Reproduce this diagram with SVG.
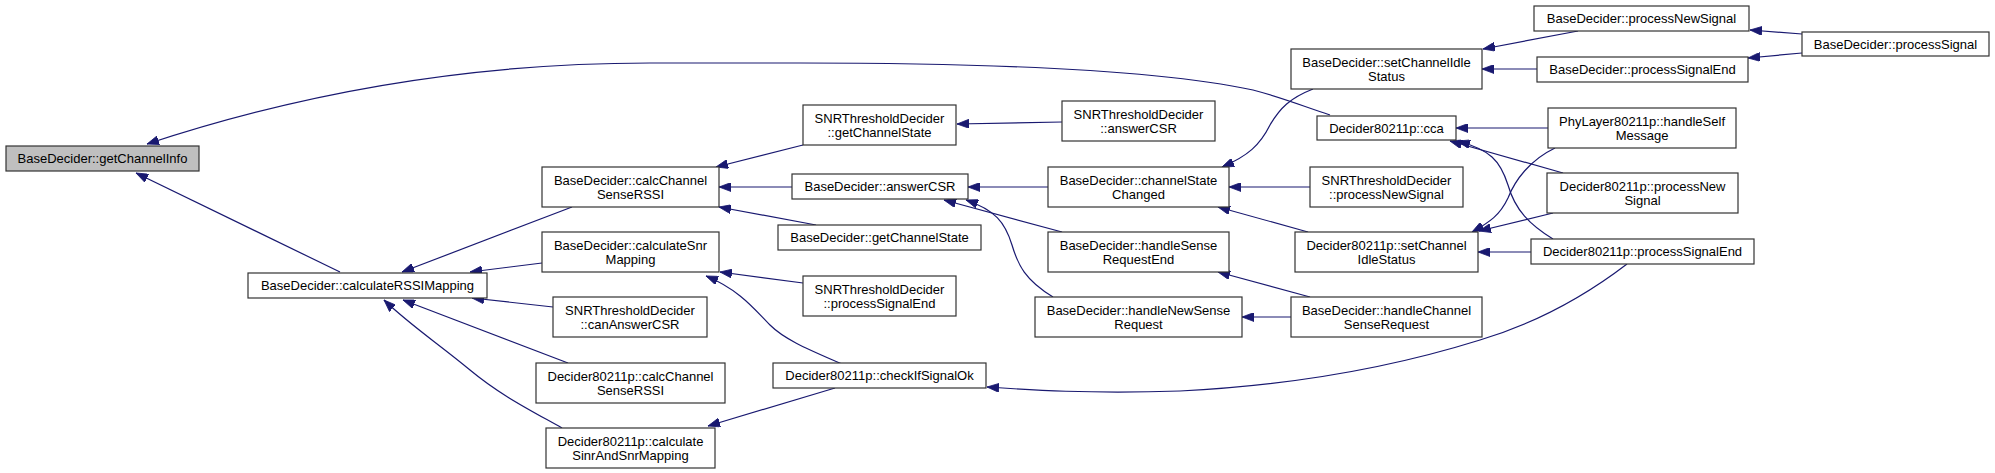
<svg xmlns="http://www.w3.org/2000/svg" width="1995" height="473" viewBox="0 0 1995 473">
<style>
.n rect{fill:#fff;stroke:#333;stroke-width:1.2}
.n.cur rect{fill:#bfbfbf}
.n text{font-family:"Liberation Sans",Arial,Helvetica,sans-serif;font-size:13px;fill:#000;text-anchor:middle}
.e path{fill:none;stroke:#191970;stroke-width:1.2;marker-end:url(#ah)}
</style>
<defs>
<marker id="ah" markerUnits="userSpaceOnUse" markerWidth="12" markerHeight="9" viewBox="0 0 12 9" refX="12" refY="4.5" orient="auto">
<path d="M0,0 L12,4.5 L0,9 z" fill="#191970" stroke="#191970" stroke-width="0.8"/>
</marker>
</defs>
<rect width="1995" height="473" fill="#fff"/>
<g id="edges" class="e">
<path d="M340,272 L136,173"/>
<path d="M1330,115 C1300,105 1280,97 1253,90 C1160,70 1000,63 800,63 L650,63 C450,63 280,100 147,144"/>
<path d="M572,207 L402,272"/>
<path d="M542,263 L470,272"/>
<path d="M553,307 L472,298"/>
<path d="M568,363 L403,300"/>
<path d="M562,428 C530,410 500,395 470,370 C440,345 410,325 384,300"/>
<path d="M803,145 L716,167"/>
<path d="M792,187 L719,187"/>
<path d="M816,225 L719,207"/>
<path d="M1062,122 L957,124"/>
<path d="M1048,187 L968,187"/>
<path d="M1062,232 L944,200"/>
<path d="M1053,297 C1025,280 1018,265 1012,245 C1005,222 995,210 966,200"/>
<path d="M803,283 L720,272"/>
<path d="M842,364 C810,350 785,340 770,325 C755,310 740,290 706,276"/>
<path d="M835,388 L708,426"/>
<path d="M1627,264 C1580,300 1530,325 1480,340 C1400,365 1300,385 1180,391 C1090,394 1030,390 987,387"/>
<path d="M1313,89 C1290,98 1280,108 1270,125 C1260,145 1248,156 1222,167"/>
<path d="M1310,187 L1229,187"/>
<path d="M1308,232 L1218,207"/>
<path d="M1310,297 L1218,272"/>
<path d="M1291,317 L1242,317"/>
<path d="M1578,31 L1483,49"/>
<path d="M1537,69 L1482,69"/>
<path d="M1802,34 L1750,30"/>
<path d="M1802,53 L1748,58"/>
<path d="M1548,128 L1456,128"/>
<path d="M1563,173 L1450,141"/>
<path d="M1553,239 C1530,225 1515,210 1508,185 C1500,160 1490,150 1458,141"/>
<path d="M1555,148 C1530,160 1515,180 1508,198 C1500,215 1490,222 1472,232"/>
<path d="M1553,213 L1479,231"/>
<path d="M1531,252 L1478,252"/>
</g>
<g id="n0" class="n cur"><rect x="6" y="146" width="193" height="25"/><text x="102.5" y="163">BaseDecider::getChannelInfo</text></g>
<g id="n1" class="n"><rect x="248" y="273" width="239" height="25"/><text x="367.5" y="290">BaseDecider::calculateRSSIMapping</text></g>
<g id="n2" class="n"><rect x="542" y="167" width="177" height="40"/><text x="630.5" y="184.5">BaseDecider::calcChannel</text><text x="630.5" y="198.5">SenseRSSI</text></g>
<g id="n3" class="n"><rect x="542" y="232" width="177" height="40"/><text x="630.5" y="249.5">BaseDecider::calculateSnr</text><text x="630.5" y="263.5">Mapping</text></g>
<g id="n4" class="n"><rect x="553" y="297" width="154" height="40"/><text x="630" y="314.5">SNRThresholdDecider</text><text x="630" y="328.5">::canAnswerCSR</text></g>
<g id="n5" class="n"><rect x="536" y="363" width="189" height="40"/><text x="630.5" y="380.5">Decider80211p::calcChannel</text><text x="630.5" y="394.5">SenseRSSI</text></g>
<g id="n6" class="n"><rect x="546" y="428" width="169" height="40"/><text x="630.5" y="445.5">Decider80211p::calculate</text><text x="630.5" y="459.5">SinrAndSnrMapping</text></g>
<g id="n7" class="n"><rect x="803" y="105" width="153" height="40"/><text x="879.5" y="122.5">SNRThresholdDecider</text><text x="879.5" y="136.5">::getChannelState</text></g>
<g id="n8" class="n"><rect x="792" y="174" width="176" height="25"/><text x="880" y="191">BaseDecider::answerCSR</text></g>
<g id="n9" class="n"><rect x="778" y="225" width="203" height="25"/><text x="879.5" y="242">BaseDecider::getChannelState</text></g>
<g id="n10" class="n"><rect x="803" y="276" width="153" height="40"/><text x="879.5" y="293.5">SNRThresholdDecider</text><text x="879.5" y="307.5">::processSignalEnd</text></g>
<g id="n11" class="n"><rect x="773" y="363" width="213" height="25"/><text x="879.5" y="380">Decider80211p::checkIfSignalOk</text></g>
<g id="n12" class="n"><rect x="1062" y="101" width="153" height="40"/><text x="1138.5" y="118.5">SNRThresholdDecider</text><text x="1138.5" y="132.5">::answerCSR</text></g>
<g id="n13" class="n"><rect x="1048" y="167" width="181" height="40"/><text x="1138.5" y="184.5">BaseDecider::channelState</text><text x="1138.5" y="198.5">Changed</text></g>
<g id="n14" class="n"><rect x="1048" y="232" width="181" height="40"/><text x="1138.5" y="249.5">BaseDecider::handleSense</text><text x="1138.5" y="263.5">RequestEnd</text></g>
<g id="n15" class="n"><rect x="1035" y="297" width="207" height="40"/><text x="1138.5" y="314.5">BaseDecider::handleNewSense</text><text x="1138.5" y="328.5">Request</text></g>
<g id="n16" class="n"><rect x="1291" y="49" width="191" height="40"/><text x="1386.5" y="66.5">BaseDecider::setChannelIdle</text><text x="1386.5" y="80.5">Status</text></g>
<g id="n17" class="n"><rect x="1317" y="116" width="139" height="24"/><text x="1386.5" y="132.5">Decider80211p::cca</text></g>
<g id="n18" class="n"><rect x="1310" y="167" width="153" height="40"/><text x="1386.5" y="184.5">SNRThresholdDecider</text><text x="1386.5" y="198.5">::processNewSignal</text></g>
<g id="n19" class="n"><rect x="1295" y="232" width="183" height="40"/><text x="1386.5" y="249.5">Decider80211p::setChannel</text><text x="1386.5" y="263.5">IdleStatus</text></g>
<g id="n20" class="n"><rect x="1291" y="297" width="191" height="40"/><text x="1386.5" y="314.5">BaseDecider::handleChannel</text><text x="1386.5" y="328.5">SenseRequest</text></g>
<g id="n21" class="n"><rect x="1534" y="6" width="215" height="25"/><text x="1641.5" y="23">BaseDecider::processNewSignal</text></g>
<g id="n22" class="n"><rect x="1537" y="57" width="211" height="25"/><text x="1642.5" y="74">BaseDecider::processSignalEnd</text></g>
<g id="n23" class="n"><rect x="1802" y="32" width="187" height="24"/><text x="1895.5" y="48.5">BaseDecider::processSignal</text></g>
<g id="n24" class="n"><rect x="1548" y="108" width="188" height="40"/><text x="1642" y="125.5">PhyLayer80211p::handleSelf</text><text x="1642" y="139.5">Message</text></g>
<g id="n25" class="n"><rect x="1547" y="173" width="191" height="40"/><text x="1642.5" y="190.5">Decider80211p::processNew</text><text x="1642.5" y="204.5">Signal</text></g>
<g id="n26" class="n"><rect x="1531" y="239" width="223" height="25"/><text x="1642.5" y="256">Decider80211p::processSignalEnd</text></g>
</svg>
